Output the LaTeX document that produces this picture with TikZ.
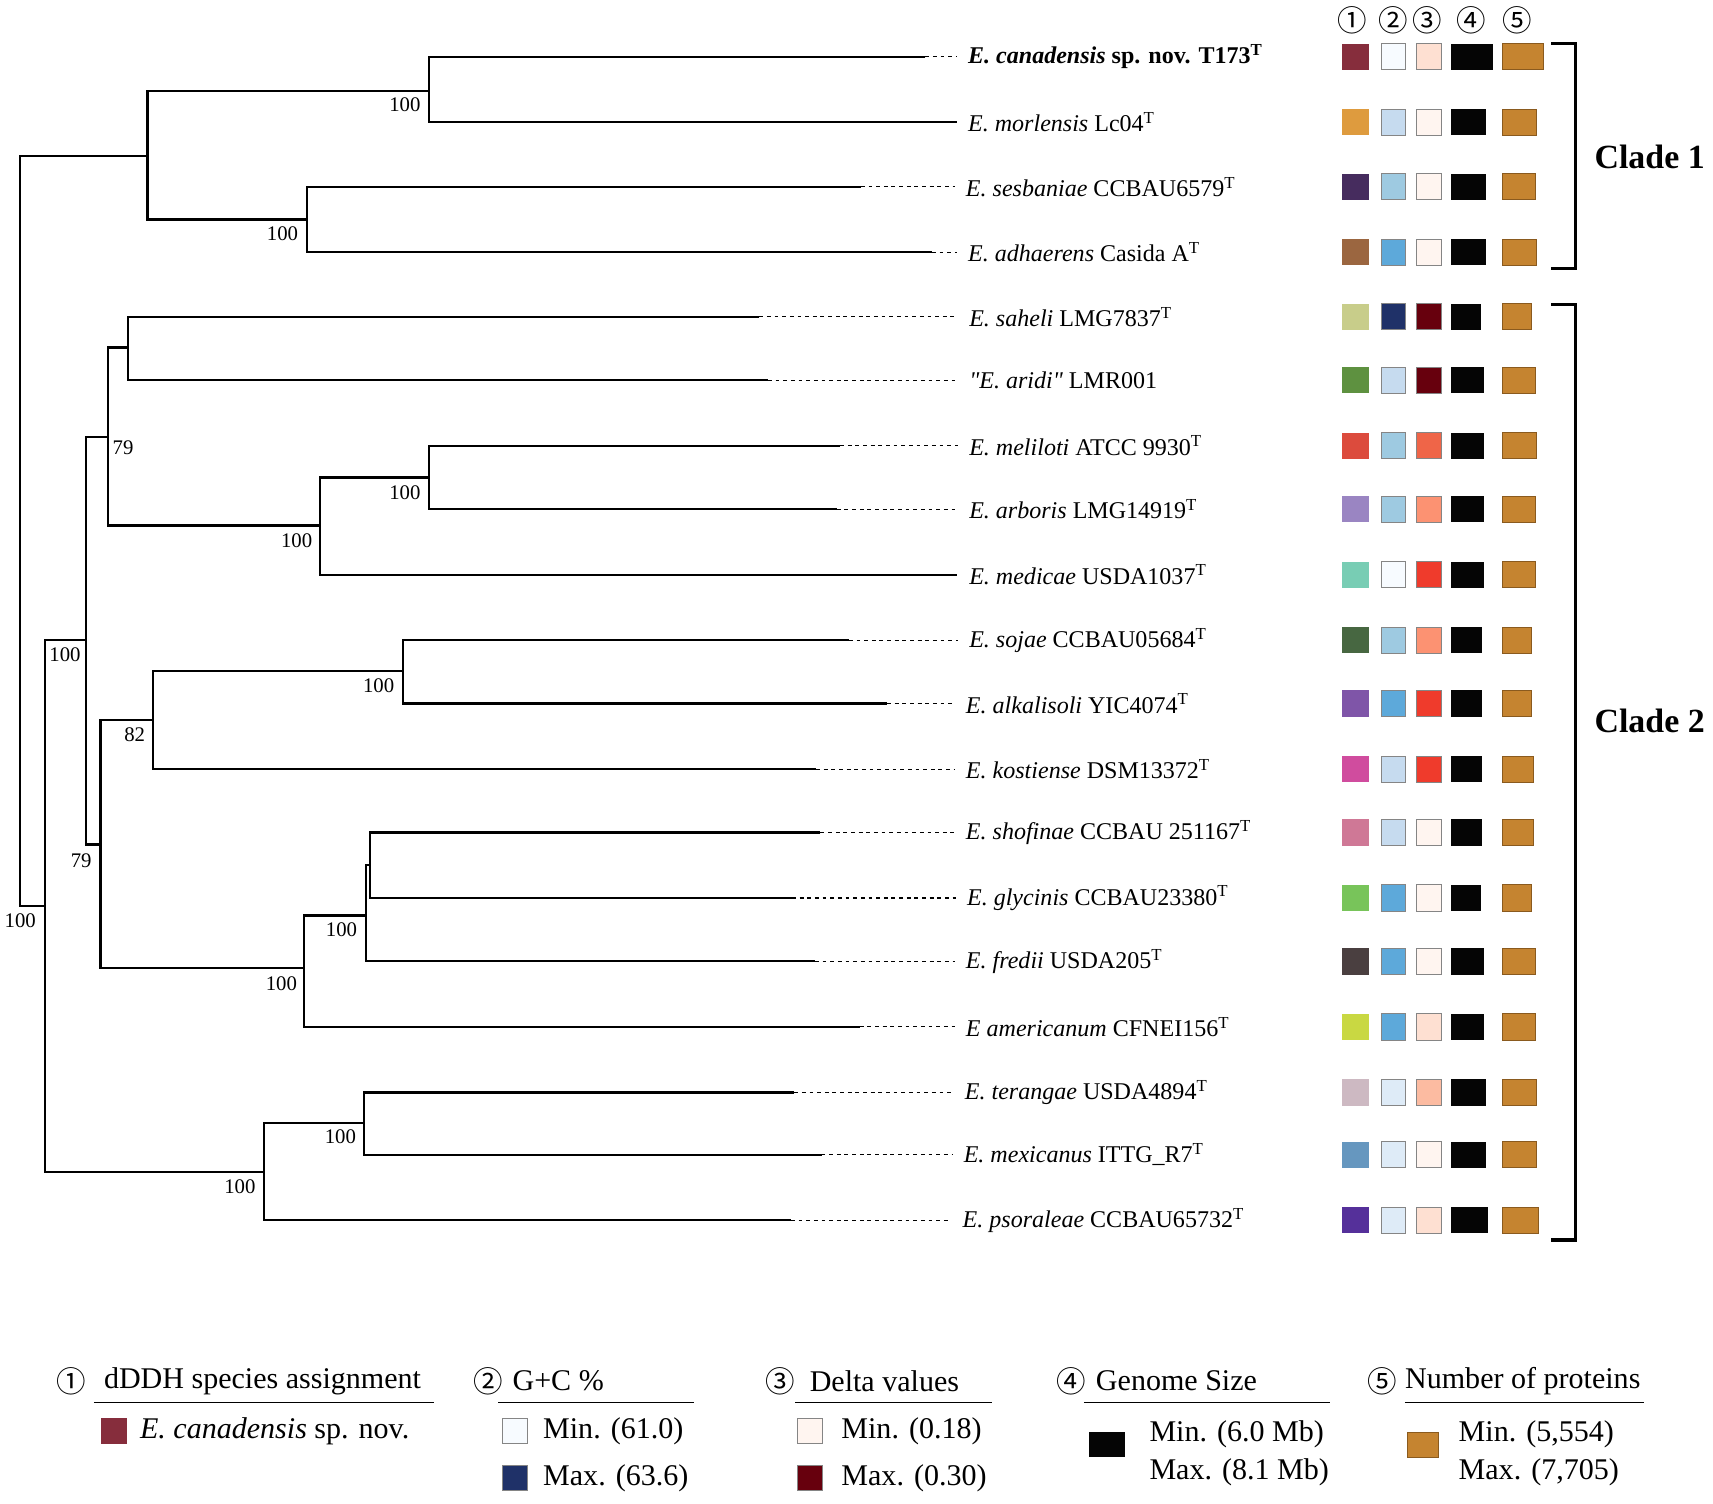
\documentclass[tikz,border=0pt]{standalone}
\usepackage{fontspec}
\setmainfont{Liberation Serif}
\newfontfamily\circfont{Noto Sans CJK SC}
\usepackage{tikz}
\definecolor{sp1}{HTML}{862D3C}\definecolor{sp2}{HTML}{DE9B3E}\definecolor{sp3}{HTML}{462C5E}\definecolor{sp4}{HTML}{9B6640}\definecolor{sp5}{HTML}{C8CD8A}
\definecolor{sp6}{HTML}{5E9140}\definecolor{sp7}{HTML}{DC4B3D}\definecolor{sp8}{HTML}{9A85C2}\definecolor{sp9}{HTML}{78CDB4}\definecolor{sp10}{HTML}{476741}
\definecolor{sp11}{HTML}{7F55A8}\definecolor{sp12}{HTML}{D04C9E}\definecolor{sp13}{HTML}{CF7896}\definecolor{sp14}{HTML}{78C45A}\definecolor{sp15}{HTML}{4A3F40}
\definecolor{sp16}{HTML}{C9D842}\definecolor{sp17}{HTML}{CDB9C2}\definecolor{sp18}{HTML}{6697BF}\definecolor{sp19}{HTML}{55309A}
\definecolor{gc1}{HTML}{F7FBFF}\definecolor{gc2}{HTML}{DEEBF7}\definecolor{gc3}{HTML}{C6DBEF}\definecolor{gc4}{HTML}{9ECAE1}\definecolor{gc5}{HTML}{5DA9DA}\definecolor{gc6}{HTML}{1F3168}
\definecolor{dv1}{HTML}{FFF5F0}\definecolor{dv2}{HTML}{FEE0D2}\definecolor{dv3}{HTML}{FCBBA1}\definecolor{dv4}{HTML}{FC9272}\definecolor{dv5}{HTML}{EF6548}\definecolor{dv6}{HTML}{EF3B2C}\definecolor{dv7}{HTML}{67000D}
\definecolor{gsz}{HTML}{050505}\definecolor{npr}{HTML}{C58430}\definecolor{nprb}{HTML}{8A5A1E}\definecolor{bgr}{HTML}{858585}
\tikzstyle{br}=[line width=2pt,line join=miter]
\tikzstyle{dt}=[line width=1pt,dash pattern=on 3.5pt off 3.5pt]
\tikzstyle{tx}=[anchor=west,inner xsep=10pt,inner ysep=0pt,font=\fontsize{22}{22}\selectfont]
\tikzstyle{bs}=[inner sep=0pt,font=\fontsize{19}{19}\selectfont]
\tikzstyle{bx}=[inner sep=0pt,minimum height=24pt]
\tikzstyle{ga}=[bx,minimum width=25pt]
\tikzstyle{gb}=[bx,draw=bgr,line width=0.8pt,minimum width=22pt]
\tikzstyle{gc}=[bx,draw=bgr,line width=0.8pt,minimum width=23pt]
\tikzstyle{gd}=[bx,anchor=west,fill=gsz]
\tikzstyle{ge}=[bx,anchor=west,fill=npr,draw=nprb,line width=0.8pt]
\tikzstyle{bk}=[line width=3pt]
\tikzstyle{cl}=[inner sep=0pt,font=\fontsize{31}{31}\selectfont\bfseries]
\tikzstyle{nm}=[inner sep=0pt,font=\circfont\fontsize{27}{27}\selectfont]
\tikzstyle{lg}=[anchor=west,inner sep=0pt,font=\fontsize{27.5}{27.5}\selectfont]
\tikzstyle{ul}=[line width=1.3pt]
\begin{document}
\begin{tikzpicture}[x=1pt,y=-1pt]
\useasboundingbox (0,0) rectangle (1568,1376);
\coordinate (r) at (18,486); \coordinate (A) at (135,143); \coordinate (B) at (393,83); \coordinate (C) at (281,201);
\coordinate (D) at (41,829); \coordinate (E) at (79,586); \coordinate (F) at (99,400); \coordinate (H) at (117,318); \coordinate (I) at (293,481); \coordinate (J) at (393,437);
\coordinate (G) at (92,773); \coordinate (K) at (140,659); \coordinate (M) at (369,614); \coordinate (L) at (278,886); \coordinate (N) at (335,838); \coordinate (O) at (339,792);
\coordinate (P) at (242,1073); \coordinate (Q) at (333,1028);
\coordinate (t1) at (847,52); \coordinate (t2) at (876,112); \coordinate (t3) at (788,171); \coordinate (t4) at (853,231); \coordinate (t5) at (695,290); \coordinate (t6) at (703,348); \coordinate (t7) at (769,408); \coordinate (t8) at (766,466); \coordinate (t9) at (876,526); \coordinate (t10) at (777,586);
\coordinate (t11) at (812,644); \coordinate (t12) at (747,704); \coordinate (t13) at (751,762); \coordinate (t14) at (725,822); \coordinate (t15) at (746,880); \coordinate (t16) at (787,940); \coordinate (t17) at (727,1000); \coordinate (t18) at (752,1057); \coordinate (t19) at (724,1117);
\draw[br] (A) -| (r) |- (D); \draw[br] (B) -| (A) |- (C); \draw[br] (t1) -| (B) |- (t2); \draw[br] (t3) -| (C) |- (t4);
\draw[br] (E) -| (D) |- (P); \draw[br] (F) -| (E) |- (G); \draw[br] (H) -| (F) |- (I); \draw[br] (t5) -| (H) |- (t6); \draw[br] (J) -| (I) |- (t9); \draw[br] (t7) -| (J) |- (t8);
\draw[br] (K) -| (G) |- (L); \draw[br] (M) -| (K) |- (t12); \draw[br] (t10) -| (M) |- (t11); \draw[br] (N) -| (L) |- (t16); \draw[br] (O) -| (N) |- (t15); \draw[br] (t13) -| (O) |- (t14);
\draw[br] (Q) -| (P) |- (t19); \draw[br] (t17) -| (Q) |- (t18);
\node[bs,anchor=north east] (vB) at ([shift={(-8,6)}]B) {100}; \node[bs,anchor=north east] (vC) at ([shift={(-8,6)}]C) {100}; \node[bs,anchor=north east] (vD) at ([shift={(-8,7)}]D) {100}; \node[bs,anchor=north east] (vE) at ([shift={(-5,7)}]E) {100};
\node[bs,anchor=north west] (vF) at ([shift={(4,3)}]F) {79}; \node[bs,anchor=north east] (vI) at ([shift={(-7,7)}]I) {100}; \node[bs,anchor=north east] (vJ) at ([shift={(-8,7)}]J) {100}; \node[bs,anchor=north east] (vG) at ([shift={(-8,8)}]G) {79};
\node[bs,anchor=north east] (vK) at ([shift={(-7,7)}]K) {82}; \node[bs,anchor=north east] (vM) at ([shift={(-8,7)}]M) {100}; \node[bs,anchor=north east] (vL) at ([shift={(-6,8)}]L) {100}; \node[bs,anchor=north east] (vN) at ([shift={(-8,6)}]N) {100};
\node[bs,anchor=north east] (vP) at ([shift={(-8,7)}]P) {100}; \node[bs,anchor=north east] (vQ) at ([shift={(-7,6)}]Q) {100};
\node[tx] (s1) at (876,52) {\textbf{\textit{E. canadensis} sp. nov. T173\textsuperscript{T}}}; \node[tx] (s2) at (876,112) {\textit{E. morlensis} Lc04\textsuperscript{T}};
\node[tx] (s3) at (874,171) {\textit{E. sesbaniae} CCBAU6579\textsuperscript{T}}; \node[tx] (s4) at (876,231) {\textit{E. adhaerens} Casida A\textsuperscript{T}};
\node[tx] (s5) at (877,290) {\textit{E. saheli} LMG7837\textsuperscript{T}}; \node[tx] (s6) at (877,348) {\textit{\textquotedbl E. aridi\textquotedbl} LMR001};
\node[tx] (s7) at (877,408) {\textit{E. meliloti} ATCC 9930\textsuperscript{T}}; \node[tx] (s8) at (877,466) {\textit{E. arboris} LMG14919\textsuperscript{T}};
\node[tx] (s9) at (877,526) {\textit{E. medicae} USDA1037\textsuperscript{T}}; \node[tx] (s10) at (877,586) {\textit{E. sojae} CCBAU05684\textsuperscript{T}};
\node[tx] (s11) at (874,644) {\textit{E. alkalisoli} YIC4074\textsuperscript{T}}; \node[tx] (s12) at (874,704) {\textit{E. kostiense} DSM13372\textsuperscript{T}};
\node[tx] (s13) at (874,762) {\textit{E. shofinae} CCBAU 251167\textsuperscript{T}}; \node[tx] (s14) at (875,822) {\textit{E. glycinis} CCBAU23380\textsuperscript{T}};
\node[tx] (s15) at (874,880) {\textit{E. fredii} USDA205\textsuperscript{T}}; \node[tx] (s16) at (874,940) {\textit{E americanum} CFNEI156\textsuperscript{T}};
\node[tx] (s17) at (873,1000) {\textit{E. terangae} USDA4894\textsuperscript{T}}; \node[tx] (s18) at (872,1057) {\textit{E. mexicanus} ITTG\_R7\textsuperscript{T}};
\node[tx] (s19) at (871,1117) {\textit{E. psoraleae} CCBAU65732\textsuperscript{T}};
\draw[dt] (t1) -- (s1.west); \draw[dt] (t3) -- (s3.west); \draw[dt] (t4) -- (s4.west); \draw[dt] (t5) -- (s5.west); \draw[dt] (t6) -- (s6.west); \draw[dt] (t7) -- (s7.west); \draw[dt] (t8) -- (s8.west); \draw[dt] (t10) -- (s10.west);
\draw[dt] (t11) -- (s11.west); \draw[dt] (t12) -- (s12.west); \draw[dt] (t13) -- (s13.west); \draw[dt] (t14) -- (s14.west); \draw[dt] (t15) -- (s15.west); \draw[dt] (t16) -- (s16.west); \draw[dt] (t17) -- (s17.west); \draw[dt] (t18) -- (s18.west); \draw[dt] (t19) -- (s19.west);
\node[nm] (h1) at (1238,19) {①}; \node[nm] (h2) at (1275,19) {②}; \node[nm] (h3) at (1306,19) {③}; \node[nm] (h4) at (1347,19) {④}; \node[nm] (h5) at (1389,19) {⑤};
\node[ga,fill=sp1] (q1a) at (1240.5,52) {}; \node[gb,fill=gc1] (q1b) at (1275.5,52) {}; \node[gc,fill=dv2] (q1c) at (1308,52) {}; \node[gd,minimum width=38pt] (q1d) at (1328,52) {}; \node[ge,minimum width=37pt] (q1e) at (1375,52) {};
\node[ga,fill=sp2] (q2a) at (1240.5,112) {}; \node[gb,fill=gc3] (q2b) at (1275.5,112) {}; \node[gc,fill=dv1] (q2c) at (1308,112) {}; \node[gd,minimum width=32pt] (q2d) at (1328,112) {}; \node[ge,minimum width=31pt] (q2e) at (1375,112) {};
\node[ga,fill=sp3] (q3a) at (1240.5,171) {}; \node[gb,fill=gc4] (q3b) at (1275.5,171) {}; \node[gc,fill=dv1] (q3c) at (1308,171) {}; \node[gd,minimum width=32pt] (q3d) at (1328,171) {}; \node[ge,minimum width=30pt] (q3e) at (1375,171) {};
\node[ga,fill=sp4] (q4a) at (1240.5,231) {}; \node[gb,fill=gc5] (q4b) at (1275.5,231) {}; \node[gc,fill=dv1] (q4c) at (1308,231) {}; \node[gd,minimum width=32pt] (q4d) at (1328,231) {}; \node[ge,minimum width=31pt] (q4e) at (1375,231) {};
\node[ga,fill=sp5] (q5a) at (1240.5,290) {}; \node[gb,fill=gc6] (q5b) at (1275.5,290) {}; \node[gc,fill=dv7] (q5c) at (1308,290) {}; \node[gd,minimum width=27pt] (q5d) at (1328,290) {}; \node[ge,minimum width=26.5pt] (q5e) at (1375,290) {};
\node[ga,fill=sp6] (q6a) at (1240.5,348) {}; \node[gb,fill=gc3] (q6b) at (1275.5,348) {}; \node[gc,fill=dv7] (q6c) at (1308,348) {}; \node[gd,minimum width=30pt] (q6d) at (1328,348) {}; \node[ge,minimum width=30pt] (q6e) at (1375,348) {};
\node[ga,fill=sp7] (q7a) at (1240.5,408) {}; \node[gb,fill=gc4] (q7b) at (1275.5,408) {}; \node[gc,fill=dv5] (q7c) at (1308,408) {}; \node[gd,minimum width=30pt] (q7d) at (1328,408) {}; \node[ge,minimum width=31pt] (q7e) at (1375,408) {};
\node[ga,fill=sp8] (q8a) at (1240.5,466) {}; \node[gb,fill=gc4] (q8b) at (1275.5,466) {}; \node[gc,fill=dv4] (q8c) at (1308,466) {}; \node[gd,minimum width=30pt] (q8d) at (1328,466) {}; \node[ge,minimum width=30pt] (q8e) at (1375,466) {};
\node[ga,fill=sp9] (q9a) at (1240.5,526) {}; \node[gb,fill=gc1] (q9b) at (1275.5,526) {}; \node[gc,fill=dv6] (q9c) at (1308,526) {}; \node[gd,minimum width=30pt] (q9d) at (1328,526) {}; \node[ge,minimum width=30pt] (q9e) at (1375,526) {};
\node[ga,fill=sp10] (q10a) at (1240.5,586) {}; \node[gb,fill=gc4] (q10b) at (1275.5,586) {}; \node[gc,fill=dv4] (q10c) at (1308,586) {}; \node[gd,minimum width=28pt] (q10d) at (1328,586) {}; \node[ge,minimum width=26.5pt] (q10e) at (1375,586) {};
\node[ga,fill=sp11] (q11a) at (1240.5,644) {}; \node[gb,fill=gc5] (q11b) at (1275.5,644) {}; \node[gc,fill=dv6] (q11c) at (1308,644) {}; \node[gd,minimum width=28pt] (q11d) at (1328,644) {}; \node[ge,minimum width=26.5pt] (q11e) at (1375,644) {};
\node[ga,fill=sp12] (q12a) at (1240.5,704) {}; \node[gb,fill=gc3] (q12b) at (1275.5,704) {}; \node[gc,fill=dv6] (q12c) at (1308,704) {}; \node[gd,minimum width=28pt] (q12d) at (1328,704) {}; \node[ge,minimum width=28.5pt] (q12e) at (1375,704) {};
\node[ga,fill=sp13] (q13a) at (1240.5,762) {}; \node[gb,fill=gc3] (q13b) at (1275.5,762) {}; \node[gc,fill=dv1] (q13c) at (1308,762) {}; \node[gd,minimum width=28pt] (q13d) at (1328,762) {}; \node[ge,minimum width=28.5pt] (q13e) at (1375,762) {};
\node[ga,fill=sp14] (q14a) at (1240.5,822) {}; \node[gb,fill=gc5] (q14b) at (1275.5,822) {}; \node[gc,fill=dv1] (q14c) at (1308,822) {}; \node[gd,minimum width=27pt] (q14d) at (1328,822) {}; \node[ge,minimum width=26.5pt] (q14e) at (1375,822) {};
\node[ga,fill=sp15] (q15a) at (1240.5,880) {}; \node[gb,fill=gc5] (q15b) at (1275.5,880) {}; \node[gc,fill=dv1] (q15c) at (1308,880) {}; \node[gd,minimum width=30pt] (q15d) at (1328,880) {}; \node[ge,minimum width=30pt] (q15e) at (1375,880) {};
\node[ga,fill=sp16] (q16a) at (1240.5,940) {}; \node[gb,fill=gc5] (q16b) at (1275.5,940) {}; \node[gc,fill=dv2] (q16c) at (1308,940) {}; \node[gd,minimum width=30pt] (q16d) at (1328,940) {}; \node[ge,minimum width=30pt] (q16e) at (1375,940) {};
\node[ga,fill=sp17] (q17a) at (1240.5,1000) {}; \node[gb,fill=gc2] (q17b) at (1275.5,1000) {}; \node[gc,fill=dv3] (q17c) at (1308,1000) {}; \node[gd,minimum width=32pt] (q17d) at (1328,1000) {}; \node[ge,minimum width=31pt] (q17e) at (1375,1000) {};
\node[ga,fill=sp18] (q18a) at (1240.5,1057) {}; \node[gb,fill=gc2] (q18b) at (1275.5,1057) {}; \node[gc,fill=dv1] (q18c) at (1308,1057) {}; \node[gd,minimum width=32pt] (q18d) at (1328,1057) {}; \node[ge,minimum width=31pt] (q18e) at (1375,1057) {};
\node[ga,fill=sp19] (q19a) at (1240.5,1117) {}; \node[gb,fill=gc2] (q19b) at (1275.5,1117) {}; \node[gc,fill=dv2] (q19c) at (1308,1117) {}; \node[gd,minimum width=34pt] (q19d) at (1328,1117) {}; \node[ge,minimum width=32.5pt] (q19e) at (1375,1117) {};
\draw[bk] (1420,40) -- (1442,40) -- (1442,246) -- (1420,246); \draw[bk] (1420,279) -- (1442,279) -- (1442,1135) -- (1420,1135);
\node[cl] (cd1) at (1510,144) {Clade 1}; \node[cl] (cd2) at (1510,660) {Clade 2};
\node[nm] (m1) at (65,1264) {①}; \node[lg] (lt1) at (95,1264) {dDDH species assignment}; \draw[ul] (86,1284) -- (397,1284);
\node[nm] (m2) at (447,1264) {②}; \node[lg] (lt2) at (469,1264) {G+C \%}; \draw[ul] (456,1284) -- (635,1284);
\node[nm] (m3) at (714,1264) {③}; \node[lg] (lt3) at (741,1264) {Delta values}; \draw[ul] (728,1284) -- (908,1284);
\node[nm] (m4) at (981,1264) {④}; \node[lg] (lt4) at (1003,1264) {Genome Size}; \draw[ul] (992,1284) -- (1217,1284);
\node[nm] (m5) at (1265,1264) {⑤}; \node[lg] (lt5) at (1286,1264) {Number of proteins}; \draw[ul] (1286,1284) -- (1505,1284);
\node[ga,fill=sp1,minimum width=24pt] (lb1) at (104,1310) {}; \node[lg] (li1) at (128,1310) {\textit{E. canadensis} sp. nov.};
\node[gc,fill=gc1,minimum height=23pt] (lb2) at (471,1309.5) {}; \node[lg] (li2) at (497,1310) {Min. (61.0)};
\node[gc,fill=gc6,minimum height=23pt] (lb3) at (471,1352.5) {}; \node[lg] (li3) at (497,1353) {Max. (63.6)};
\node[gc,fill=dv1,minimum height=23pt] (lb4) at (741,1309.5) {}; \node[lg] (li4) at (770,1310) {Min. (0.18)};
\node[gc,fill=dv7,minimum height=23pt] (lb5) at (741,1352.5) {}; \node[lg] (li5) at (770,1353) {Max. (0.30)};
\node[bx,fill=gsz,minimum width=33pt,minimum height=23pt] (lb6) at (1013.5,1322.5) {}; \node[lg] (li6) at (1052,1313) {Min. (6.0 Mb)}; \node[lg] (li7) at (1052,1348) {Max. (8.1 Mb)};
\node[bx,fill=npr,draw=nprb,line width=0.8pt,minimum width=29pt,minimum height=23pt] (lb7) at (1302.5,1322.5) {}; \node[lg] (li8) at (1335,1313) {Min. (5,554)}; \node[lg] (li9) at (1335,1348) {Max. (7,705)};
\end{tikzpicture}
\end{document}
